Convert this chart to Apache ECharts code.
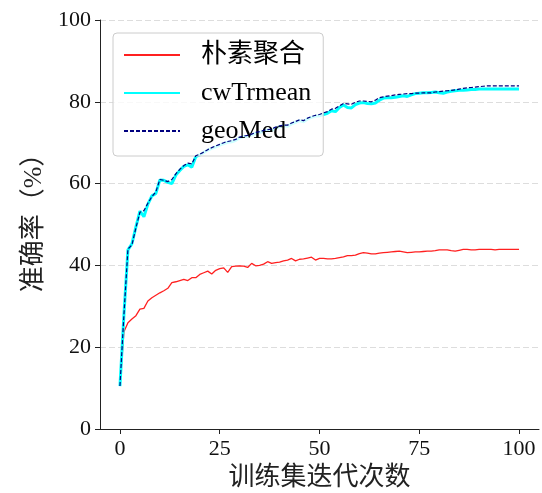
<!DOCTYPE html>
<html>
<head>
<meta charset="utf-8">
<style>
  html, body { margin: 0; padding: 0; background: #fff; }
  #chart { width: 542px; height: 493px; }
</style>
<script src="https://cdn.jsdelivr.net/npm/echarts@6/dist/echarts.min.js"></script>
</head>
<body>
<div id="chart"></div>
<script>
// Training iterations 0..100
const epochs = Array.from({ length: 101 }, (_, i) => i);

const seriesNames = ['朴素聚合', 'cwTrmean', 'geoMed'];

// Accuracy (%) per iteration
const naiveAcc = [
  10.5, 23.8, 26.0, 26.9, 27.7, 29.3, 29.5, 31.3, 32.1, 32.7,
  33.3, 33.8, 34.4, 35.8, 36.0, 36.3, 36.6, 36.3, 37.0, 37.0,
  37.8, 38.2, 38.6, 37.9, 38.8, 39.2, 39.4, 38.3, 39.7, 39.8,
  39.9, 39.8, 39.5, 40.5, 39.9, 40.0, 40.3, 40.9, 40.5, 40.7,
  40.8, 41.1, 41.3, 41.7, 41.1, 41.5, 41.6, 41.8, 42.0, 41.3,
  41.7, 41.7, 41.6, 41.6, 41.7, 41.9, 42.1, 42.4, 42.4, 42.5,
  42.9, 43.1, 43.0, 42.8, 42.8, 43.0, 43.1, 43.2, 43.3, 43.4,
  43.5, 43.3, 43.1, 43.2, 43.3, 43.3, 43.4, 43.5, 43.5, 43.6,
  43.8, 43.8, 43.8, 43.6, 43.5, 43.7, 43.9, 43.9, 43.8, 43.8,
  43.9, 43.9, 43.9, 43.9, 43.8, 43.9, 43.9, 43.9, 43.9, 43.9,
  43.9
];

const cwTrmeanAcc = [
  10.5, 28.0, 43.8, 45.3, 49.4, 53.3, 51.9, 55.0, 57.0, 57.6,
  60.9, 60.8, 60.3, 60.0, 62.1, 63.2, 64.2, 64.6, 64.0, 66.6,
  67.0, 67.6, 68.2, 68.6, 69.0, 69.4, 69.8, 70.1, 70.2, 70.6,
  71.2, 71.5, 71.6, 71.9, 72.3, 72.5, 72.8, 73.1, 73.0, 73.6,
  73.9, 74.2, 74.0, 74.6, 75.0, 75.4, 75.1, 75.8, 76.2, 76.5,
  76.6, 76.9, 77.2, 77.8, 77.6, 78.6, 79.2, 78.6, 78.5, 79.3,
  79.7, 79.8, 79.6, 79.5, 79.7, 80.4, 80.9, 81.0, 81.0, 81.1,
  81.3, 81.5, 81.3, 81.7, 82.0, 82.1, 82.2, 82.2, 82.3, 82.4,
  82.2, 82.1, 82.4, 82.6, 82.7, 82.8, 82.8, 82.9, 83.0, 83.0,
  83.1, 83.1, 83.1, 83.1, 83.1, 83.1, 83.1, 83.1, 83.1, 83.1,
  83.1
];

const geoMedAcc = [
  10.5, 28.0, 44.0, 45.0, 49.2, 53.0, 53.4, 55.2, 56.8, 58.0,
  61.0, 60.8, 60.5, 61.0, 62.4, 63.5, 64.4, 65.0, 64.8, 66.8,
  67.2, 67.7, 68.3, 68.8, 69.2, 69.6, 70.0, 70.3, 70.5, 70.8,
  71.4, 71.6, 71.8, 72.1, 72.5, 72.7, 73.0, 73.2, 73.3, 73.8,
  74.1, 74.3, 74.3, 74.8, 75.2, 75.6, 75.4, 76.0, 76.4, 76.7,
  76.9, 77.3, 77.6, 78.2, 78.4, 79.0, 79.6, 79.5, 79.4, 79.9,
  80.2, 80.2, 80.1, 80.0, 80.4, 81.0, 81.2, 81.4, 81.5, 81.7,
  81.8, 81.9, 82.0, 82.0, 82.1, 82.1, 82.2, 82.2, 82.2, 82.4,
  82.5, 82.6, 82.7, 82.8, 82.9, 83.1, 83.3, 83.4, 83.5, 83.6,
  83.7, 83.8, 83.9, 83.9, 83.9, 83.9, 83.9, 83.9, 83.9, 83.9,
  83.9
];

const xTicks = [0, 25, 50, 75, 100];
const xName = '训练集迭代次数';
const yName = '准确率（%）';

const FONT = "'Liberation Serif', 'Noto Sans CJK SC', serif";

const chart = echarts.init(document.getElementById('chart'), null, { renderer: 'canvas' });

const pair = (ys) => epochs.map((x, i) => [x, ys[i]]);

chart.setOption({
  animation: false,
  backgroundColor: '#ffffff',
  textStyle: { fontFamily: FONT },
  grid: { left: 100, right: 3, top: 20, bottom: 64, outerBoundsMode: 'none', containLabel: false },
  legend: {
    orient: 'vertical',
    left: 113,
    top: 33,
    padding: [9, 12, 12, 10],
    itemGap: 12,
    itemWidth: 56,
    itemHeight: 14,
    backgroundColor: 'rgba(255,255,255,0.8)',
    borderColor: '#cccccc',
    borderWidth: 1,
    borderRadius: 4,
    itemStyle: { opacity: 0 },
    textStyle: {
      fontFamily: FONT,
      fontSize: 26,
      color: '#000',
      padding: [0, 0, 0, 16]
    },
    data: seriesNames
  },
  xAxis: {
    type: 'value',
    min: -5,
    max: 105,
    name: xName,
    nameLocation: 'middle',
    nameGap: 35,
    nameTextStyle: { fontFamily: FONT, fontSize: 26, color: '#222' },
    axisLine: { show: true, onZero: false, lineStyle: { color: '#222', width: 1 } },
    axisTick: { show: true, length: 5, lineStyle: { color: '#222' }, customValues: xTicks },
    axisLabel: { fontFamily: FONT, fontSize: 22, color: '#111', margin: 9, customValues: xTicks },
    splitLine: { show: false }
  },
  yAxis: {
    type: 'value',
    min: 0,
    max: 100,
    interval: 20,
    name: yName,
    nameLocation: 'middle',
    nameRotate: 90,
    nameGap: 51,
    nameTextStyle: { fontFamily: FONT, fontSize: 26, color: '#222', padding: [0, 0, 0, 16] },
    axisLine: { show: true, onZero: false, lineStyle: { color: '#222', width: 1 } },
    axisTick: { show: true, length: 5, lineStyle: { color: '#222' } },
    axisLabel: { fontFamily: FONT, fontSize: 22, color: '#111', margin: 9 },
    splitLine: { show: true, lineStyle: { color: '#dddddd', type: [6, 3], width: 1 } }
  },
  series: [
    {
      name: seriesNames[0],
      type: 'line',
      data: pair(naiveAcc),
      symbol: 'none',
      color: '#ff2020',
      lineStyle: { color: '#ff2020', width: 1.3 },
      z: 2
    },
    {
      name: seriesNames[1],
      type: 'line',
      data: pair(cwTrmeanAcc),
      symbol: 'none',
      color: '#00ffff',
      lineStyle: { color: '#00ffff', width: 3 },
      z: 3
    },
    {
      name: seriesNames[2],
      type: 'line',
      data: pair(geoMedAcc),
      symbol: 'none',
      color: '#00007f',
      lineStyle: { color: '#00007f', width: 1.2, type: [4, 2] },
      z: 4
    }
  ]
});
</script>
</body>
</html>
